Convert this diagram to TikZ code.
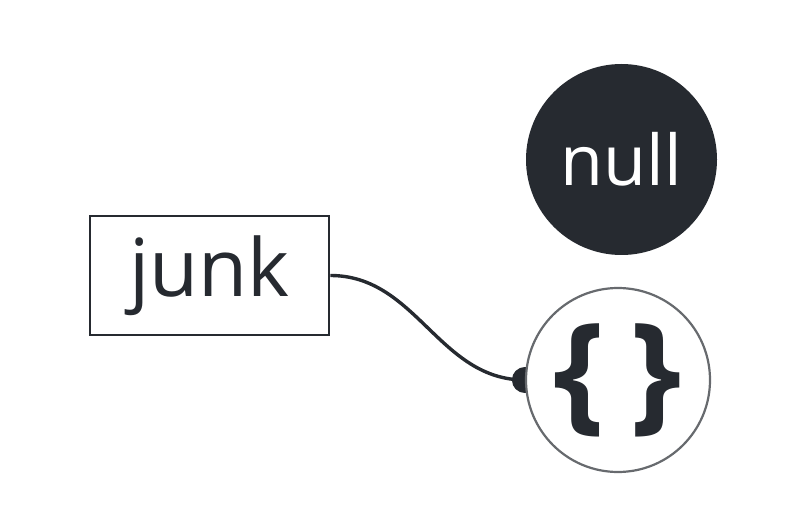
\documentclass[tikz,border=0pt]{standalone}
\usepackage{fontspec}
\setmainfont{Open Sans}
\usetikzlibrary{positioning,backgrounds}

\definecolor{ink}{HTML}{262A30}

\begin{document}
\begin{tikzpicture}[
  x=1pt, y=-1pt,
  valuebox/.style={rectangle, draw=ink, line width=2.8pt, fill=white, minimum width=239pt, minimum height=119pt, text=ink, font=\fontsize{80}{80}\selectfont},
  nullball/.style={circle, fill=ink, text=white, minimum size=191pt, inner sep=0pt, font=\fontsize{70}{70}\selectfont},
  objball/.style={circle, draw=ink!70, line width=2.2pt, fill=white, minimum size=184pt, inner sep=0pt, text=ink, font=\fontsize{130}{130}\selectfont\bfseries},
  wire/.style={draw=ink, line width=3.4pt},
]
  \useasboundingbox (0,0) rectangle (800,521);

  % Values
  \node[valuebox] (junk) at (209.5,275.5) {junk};
  \node[nullball] (null) at (621.5,159.5) {null};
  \node[objball] (obj) at (618,380) {\raisebox{0.06em}{\{\kern0.2em\}}};

  % Reference
  \begin{scope}[on background layer]
    \draw[wire] (junk.east) to[out=0, in=180] (obj.west);
    \fill[ink] (obj.west) circle (13pt);
  \end{scope}
\end{tikzpicture}
\end{document}
